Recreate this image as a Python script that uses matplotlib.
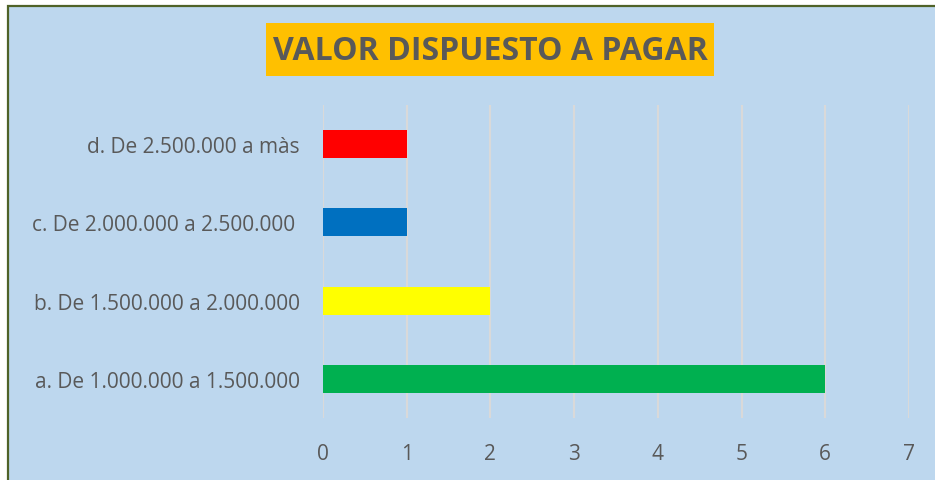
import matplotlib
matplotlib.use("Agg")
import matplotlib.pyplot as plt
from matplotlib.patches import Rectangle

categories = ["a. De 1.000.000 a 1.500.000", "b. De 1.500.000 a 2.000.000",
              "c. De 2.000.000 a 2.500.000 ", "d. De 2.500.000 a màs"]
values = [6, 2, 1, 1]
colors = ["#00B050", "#FFFF00", "#0070C0", "#FF0000"]
title = "VALOR DISPUESTO A PAGAR"
xticks = [0, 1, 2, 3, 4, 5, 6, 7]

W, H = 935, 481
fig = plt.figure(figsize=(W / 100, H / 100), dpi=100)
fig.patch.set_facecolor("white")

def fx(px):
    return px / W

def fy(py):
    return 1 - py / H

# chart area background with border
bg = Rectangle((fx(8), 0 - 0.01), fx(940) - fx(8), fy(7) + 0.01,
               transform=fig.transFigure, facecolor="#BDD7EE",
               edgecolor="#4F6228", linewidth=1.6, zorder=-2)
fig.patches.append(bg)

# plot area
ax = fig.add_axes([fx(323), fy(419), fx(909) - fx(323), fy(106) - fy(419)])
ax.set_zorder(3)
ax.set_facecolor("none")
y = range(len(categories))
ax.barh(list(y), values, height=0.36, color=colors, zorder=3)
ax.set_xlim(0, 7)
ax.set_ylim(-0.5, len(categories) - 0.5)
ax.set_xticks(xticks)
ax.set_yticks(list(y))
ax.set_yticklabels(categories)
ax.grid(axis="x", color="#D9D9D9", linewidth=1.5, zorder=0)
ax.set_axisbelow(True)
for s in ax.spines.values():
    s.set_visible(False)
ax.tick_params(axis="both", length=0, labelcolor="#595959", labelsize=15)
ax.tick_params(axis="x", pad=18)
ax.tick_params(axis="y", pad=16.5)
for lab in ax.get_xticklabels() + ax.get_yticklabels():
    lab.set_fontfamily("Open Sans")

# title box
box = Rectangle((fx(266), fy(77)), fx(714) - fx(266), fy(24) - fy(77),
                transform=fig.transFigure, facecolor="#FFC000",
                edgecolor="none", zorder=-1)
fig.patches.append(box)
fig.text(fx(490), fy(51), title, ha="center", va="center",
         fontsize=23, fontweight="bold", color="#595959",
         fontfamily="Open Sans", zorder=2)

fig.savefig("out.png", dpi=100)
